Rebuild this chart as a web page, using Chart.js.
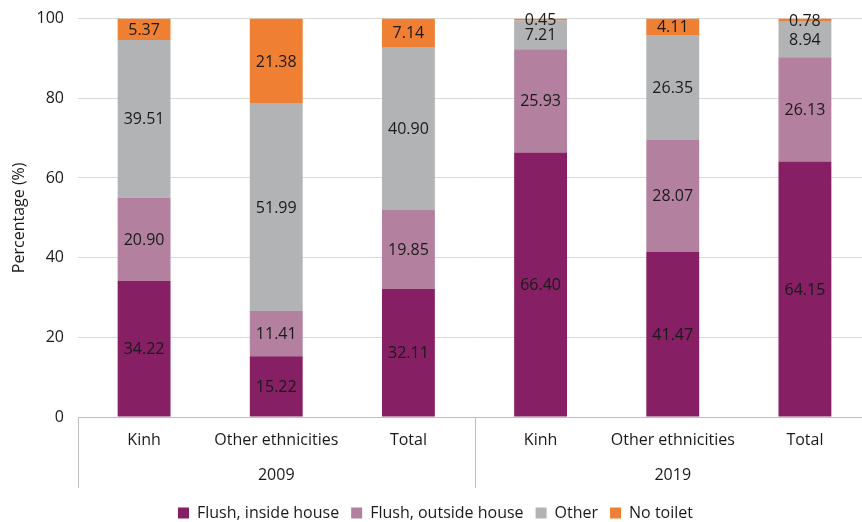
<!DOCTYPE html>
<html>
<head>
<meta charset="utf-8">
<script src="https://cdn.jsdelivr.net/npm/chart.js@4"></script>
<style>
  html, body { margin: 0; padding: 0; background: #fff; overflow: hidden; }
  #wrap { width: 871px; height: 536px; margin-top: -5px; }
</style>
</head>
<body>
<div id="wrap"><canvas id="chart"></canvas></div>
<script>
// Categories and groups
const categories = ['Kinh', 'Other ethnicities', 'Total', 'Kinh', 'Other ethnicities', 'Total'];
const groups = ['2009', '2019'];
const yTicks = [0, 20, 40, 60, 80, 100];

// Series values (percent)
const flushInside  = [34.22, 15.22, 32.11, 66.40, 41.47, 64.15];
const flushOutside = [20.90, 11.41, 19.85, 25.93, 28.07, 26.13];
const otherToilet  = [39.51, 51.99, 40.90, 7.21, 26.35, 8.94];
const noToilet     = [5.37, 21.38, 7.14, 0.45, 4.11, 0.78];

const FONT = '"Open Sans", "Noto Sans", sans-serif';
const TEXT = '#1a1a1a';

// Value labels centred in each segment
const segmentLabels = {
    id: 'segmentLabels',
    afterDatasetsDraw(chart) {
        const ctx = chart.ctx;
        ctx.save();
        ctx.font = '16px ' + FONT;
        ctx.fillStyle = TEXT;
        ctx.textAlign = 'center';
        ctx.textBaseline = 'middle';
        chart.data.datasets.forEach((ds, di) => {
            chart.getDatasetMeta(di).data.forEach((bar, i) => {
                const { x, y, base } = bar.getProps(['x', 'y', 'base'], true);
                ctx.fillText(ds.data[i].toFixed(2), x, (y + base) / 2 + 1);
            });
        });
        ctx.restore();
    }
};

// Second row of x axis (years) plus group separators
const groupAxis = {
    id: 'groupAxis',
    afterDraw(chart) {
        const ctx = chart.ctx;
        const area = chart.chartArea;
        const step = (area.right - area.left) / categories.length;
        ctx.save();
        ctx.strokeStyle = '#bfbfbf';
        ctx.lineWidth = 1;
        for (let g = 0; g <= groups.length; g++) {
            const px = Math.round(area.left + g * 3 * step) + 0.5;
            ctx.beginPath();
            ctx.moveTo(px, area.bottom);
            ctx.lineTo(px, area.bottom + 71);
            ctx.stroke();
        }
        ctx.font = '16px ' + FONT;
        ctx.fillStyle = TEXT;
        ctx.textAlign = 'center';
        ctx.textBaseline = 'middle';
        groups.forEach((g, gi) => {
            const cx = area.left + (gi * 3 + 1.5) * step;
            ctx.fillText(g, cx, area.bottom + 58);
        });
        ctx.restore();
    }
};

const ds = (label, data, color) => ({
    label, data,
    backgroundColor: color,
    borderWidth: 0,
    barPercentage: 0.4,
    categoryPercentage: 1.0,
});

new Chart(document.getElementById('chart'), {
    type: 'bar',
    data: {
        labels: categories,
        datasets: [
            ds('Flush, inside house', flushInside, '#861f63'),
            ds('Flush, outside house', flushOutside, '#b3819f'),
            ds('Other', otherToilet, '#b2b3b5'),
            ds('No toilet', noToilet, '#ef7f33'),
        ],
    },
    options: {
        responsive: true,
        maintainAspectRatio: false,
        animation: false,
        layout: { padding: { top: 14, left: 0, right: 0, bottom: 0 } },
        plugins: {
            tooltip: { enabled: false },
            legend: {
                position: 'bottom',
                labels: {
                    font: { family: FONT, size: 16 },
                    color: TEXT,
                    boxWidth: 11,
                    boxHeight: 11,
                    padding: 12,
                },
            },
        },
        scales: {
            x: {
                stacked: true,
                grid: { display: false, drawTicks: false },
                border: { display: true, color: '#bfbfbf' },
                ticks: { font: { family: FONT, size: 16 }, color: TEXT, padding: 14 },
                afterFit: (s) => { s.height = 76; },
            },
            y: {
                stacked: true,
                min: 0,
                max: 100,
                afterBuildTicks: (s) => { s.ticks = yTicks.map(v => ({ value: v })); },
                grid: { color: '#d9d9d9', drawTicks: false },
                border: { display: false },
                ticks: { font: { family: FONT, size: 16 }, color: TEXT, padding: 14 },
                title: {
                    display: true,
                    text: 'Percentage (%)',
                    font: { family: FONT, size: 16 },
                    color: TEXT,
                    padding: { top: 10, bottom: 2 },
                },
                afterFit: (s) => { s.width = 78; },
            },
        },
    },
    plugins: [segmentLabels, groupAxis],
});
</script>
</body>
</html>
